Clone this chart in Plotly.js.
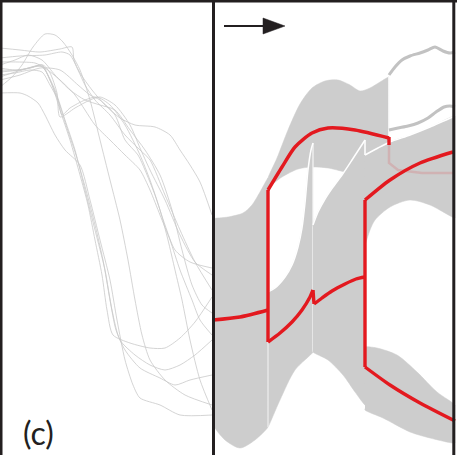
<!DOCTYPE html>
<html>
<head>
<meta charset="utf-8">
<script src="https://cdn.plot.ly/plotly-3.0.1.min.js"></script>
<style>html,body{margin:0;padding:0;background:#fff;}#chart{width:457px;height:455px;}</style>
</head>
<body>
<div id="chart"></div>
<script>
// ---------- Left panel: sample trajectories (x, y in panel units; y grows downward) ----------
const trajX = [
  [0,12,22,33,45,55,63,72,80,90,100,110,120,128,135,142,150,165,185,212],
  [0,20,40,60,72,74,80,92,105,120,135,155,170,180,190,200,212],
  [0,20,45,62,70,78,85,95,110,125,140,150,165,180,195,212],
  [0,20,43,50,57,60,75,90,100,115,130,140,150,165,180,195,212],
  [0,15,30,40,45,55,65,75,85,95,105,112,120,135,150,165,180,195,212],
  [0,20,38,43,52,60,70,80,88,95,102,107,113,130,150,165,180,195,212],
  [0,15,30,42,50,58,66,76,86,95,103,110,116,125,140,160,175,190,212],
  [0,20,28,38,45,55,65,80,90,100,110,117,125,133,140,160,180,212],
  [0,18,35,45,60,75,85,95,110,125,140,150,160,170,180,192,200,212],
  [0,15,28,42,55,70,85,100,115,130,145,160,172,182,192,202,212],
  [0,20,40,60,78,90,100,115,125,138,145,155,165,175,190,212],
  [0,15,30,42,50,58,62,70,85,97,110,125,140,150,160,168,175,182,190,200,212]
];
const trajY = [
  [87,77,65,47,34,35,42,55,70,100,140,180,220,260,300,335,360,380,395,405],
  [48,50,52,49,47,60,73,90,105,118,125,127,135,150,165,182,215],
  [58,56,55,52,55,70,85,100,115,135,150,160,195,230,262,290],
  [70,70,65,73,93,117,108,100,97,105,125,148,170,200,235,262,275],
  [68,70,68,66,70,90,120,150,190,230,270,310,340,355,365,370,365,355,340],
  [72,70,66,67,85,110,140,175,205,240,275,310,335,343,348,348,338,322,297],
  [77,72,68,65,80,100,125,155,190,225,260,300,330,350,368,378,385,380,375],
  [93,93,96,103,115,135,150,165,200,240,280,320,360,385,398,405,415,415],
  [62,62,63,68,80,95,110,125,140,155,170,190,215,240,270,300,320,335],
  [65,60,55,60,75,90,100,105,110,130,150,175,210,250,285,305,313],
  [80,75,68,70,85,95,100,115,140,155,170,195,225,250,262,268],
  [75,73,70,72,85,100,115,108,100,97,105,125,155,180,210,240,270,300,340,380,410]
];

// ---------- Right panel: distribution bands (top / bottom boundaries) ----------
const band0TopX = [213,228,243,252,260,268];
const band0TopY = [219,217,213,205,192,178];
const band0BotX = [213,225,240,255,268];
const band0BotY = [425,440,448,440,427];

const bandATopX = [268,277,288,300,312,325,338,350,360,370,380,389];
const bandATopY = [178,158,130,104,88,81,80,85,91,88,82,77];
const bandABotX = [268,282,298,312,328,345,365,389];
const bandABotY = [187,177,169,167,168,172,176,180];

const bandL1TopX = [268,275,285,292,298,302,305,308,311,313];
const bandL1TopY = [292,288,277,265,247,228,203,170,150,143];
const bandL1BotX = [268,280,295,313];
const bandL1BotY = [427,400,370,352];

const bandL2TopX = [313,318,325,333,342,352,365];
const bandL2TopY = [225,212,199,187,175,160,140];
const bandL2BotX = [313,328,343,355,365];
const bandL2BotY = [352,360,375,392,405];

const bandU3TopX = [365,378,390,410,430,455];
const bandU3TopY = [155,148,142,135,127,116];
const bandU3BotX = [365,370,375,390,410,430,455];
const bandU3BotY = [245,230,220,207,200,205,218];

const bandLLTopX = [365,377,397,417,437,455];
const bandLLTopY = [347,348,355,372,392,405];
const bandLLBotX = [365,383,410,430,455];
const bandLLBotY = [410,418,432,438,443];

// ---------- Right panel: band edges drawn in white ----------
const edgeL1RightX = [313,313];  const edgeL1RightY = [143,352];
const edgeL1LeftX = [268,268];   const edgeL1LeftY = [342,427];
const edgeARightX = [389,389];   const edgeARightY = [77,142];
const edgeJumpX = [365,365];     const edgeJumpY = [140,155];

// ---------- Right panel: mean paths ----------
const mean0X = [213,240,268];            const mean0Y = [320,317,310];
const jump1X = [268,268];                const jump1Y = [190,342];
const meanUX = [268,282,295,312,328,355,389];
const meanUY = [190,167,147,133,128,130,138];
const meanUEndX = [389,389];             const meanUEndY = [137,145];
const meanL1X = [268,280,292,302,310,313];
const meanL1Y = [342,333,322,310,297,290];
const meanL1bX = [313,314,322,332,345,356,365];
const meanL1bY = [290,304,298,291,284,279,277];
const jump2X = [365,365];                const jump2Y = [200,367];
const meanU3X = [365,390,420,453];       const meanU3Y = [200,180,163,152];
const meanLLX = [365,390,420,455];       const meanLLY = [367,385,403,421];
const ghostX = [389,389,398,422,455];    const ghostY = [143,163,170,173,173];

// ---------- Right panel: upper sample paths ----------
const upper1X = [389,395,402,410,420,428,435,443,450,455];
const upper1Y = [75,67,60,56,53,50,47,51,53,52];
const upper2X = [389,398,408,418,428,436,444,450,455];
const upper2Y = [130,128,126,123,118,112,107,106,107];

// ---------- Arrow ----------
const arrowShaftX = [224,266];  const arrowShaftY = [26,26];
const arrowHeadX = [263,285,263,263]; const arrowHeadY = [18,26,34,18];

const GREY = '#cdcdcd';
const RED = '#e3191f';
const INK = '#231f20';

function band(tx, ty, bx, by) {
  const n = tx.length, m = bx.length;
  const xs = [], ys = [];
  xs.push(tx[0]); ys.push(ty[0] + 1.5);
  for (let i = 0; i < n; i++) { xs.push(tx[i]); ys.push(ty[i]); }
  xs.push(tx[n-1]); ys.push(ty[n-1] + 1.5);
  xs.push(bx[m-1]); ys.push(by[m-1] - 1.5);
  for (let i = m - 1; i >= 0; i--) { xs.push(bx[i]); ys.push(by[i]); }
  xs.push(bx[0]); ys.push(by[0] - 1.5);
  return {
    x: xs, y: ys,
    type: 'scatter', mode: 'lines', fill: 'toself',
    fillcolor: GREY, line: {color: GREY, width: 0.5, shape: 'spline', smoothing: 0.8},
    hoverinfo: 'skip'
  };
}
function line(x, y, color, width) {
  return {x: x, y: y, type: 'scatter', mode: 'lines',
          line: {color: color, width: width, shape: 'spline', smoothing: 0.7}, hoverinfo: 'skip'};
}
function straight(x, y, color, width) {
  return {x: x, y: y, type: 'scatter', mode: 'lines',
          line: {color: color, width: width}, hoverinfo: 'skip'};
}

const RW = 3.4;
const traces = [];
for (let i = 0; i < trajX.length; i++) traces.push(line(trajX[i], trajY[i], '#c9c9c9', 0.8));
traces.push(band(band0TopX, band0TopY, band0BotX, band0BotY));
traces.push(band(bandATopX, bandATopY, bandABotX, bandABotY));
traces.push(straight(edgeARightX, edgeARightY, '#ffffff', 1.5));
traces.push(band(bandL1TopX, bandL1TopY, bandL1BotX, bandL1BotY));
traces.push(line(bandL1TopX, bandL1TopY, '#ffffff', 1.5));
traces.push(straight(edgeL1RightX, edgeL1RightY, '#ffffff', 1));
traces.push(straight(edgeL1LeftX, edgeL1LeftY, '#ffffff', 0.8));
traces.push(band(bandL2TopX, bandL2TopY, bandL2BotX, bandL2BotY));
traces.push(line(bandL2TopX, bandL2TopY, '#ffffff', 1.5));
traces.push(band(bandU3TopX, bandU3TopY, bandU3BotX, bandU3BotY));
traces.push(line(bandU3TopX, bandU3TopY, '#ffffff', 1.5));
traces.push(straight(edgeJumpX, edgeJumpY, '#ffffff', 1.5));
traces.push(band(bandLLTopX, bandLLTopY, bandLLBotX, bandLLBotY));
traces.push(line(upper1X, upper1Y, '#c2c2c2', 3));
traces.push(line(upper2X, upper2Y, '#c2c2c2', 3));
traces.push(straight(ghostX, ghostY, 'rgba(227,25,31,0.15)', 2.5));
traces.push(line(mean0X, mean0Y, RED, RW));
traces.push(straight(jump1X, jump1Y, RED, RW));
traces.push(line(meanUX, meanUY, RED, RW));
traces.push(straight(meanUEndX, meanUEndY, RED, RW));
traces.push(line(meanL1X, meanL1Y, RED, RW));
traces.push(line(meanL1bX.slice(1), meanL1bY.slice(1), RED, RW));
traces.push(straight(meanL1bX.slice(0, 2), meanL1bY.slice(0, 2), RED, RW));
traces.push(straight(jump2X, jump2Y, RED, RW));
traces.push(line(meanU3X, meanU3Y, RED, RW));
traces.push(line(meanLLX, meanLLY, RED, RW));
traces.push(straight(arrowShaftX, arrowShaftY, INK, 2));
traces.push({x: arrowHeadX, y: arrowHeadY, type: 'scatter', mode: 'lines', fill: 'toself',
             fillcolor: INK, line: {color: INK, width: 0.5}, hoverinfo: 'skip'});

const layout = {
  width: 457, height: 455,
  margin: {l: 0, r: 0, t: 0, b: 0},
  paper_bgcolor: '#ffffff', plot_bgcolor: '#ffffff',
  showlegend: false,
  xaxis: {range: [0, 457], visible: false, fixedrange: true},
  yaxis: {range: [455, 0], visible: false, fixedrange: true},
  shapes: [
    {type: 'line', xref: 'x', yref: 'y', x0: 0, x1: 457, y0: 1.2, y1: 1.2, line: {color: INK, width: 2.6}, layer: 'above'},
    {type: 'line', xref: 'x', yref: 'y', x0: 1.2, x1: 1.2, y0: 0, y1: 455, line: {color: INK, width: 2.6}, layer: 'above'},
    {type: 'line', xref: 'x', yref: 'y', x0: 213.5, x1: 213.5, y0: 0, y1: 455, line: {color: INK, width: 3}, layer: 'above'},
    {type: 'line', xref: 'x', yref: 'y', x0: 453.8, x1: 453.8, y0: 0, y1: 455, line: {color: INK, width: 3}, layer: 'above'}
  ],
  annotations: [
    {x: 38, y: 432, xref: 'x', yref: 'y', text: '(c)', showarrow: false,
     font: {family: 'Lato, "Open Sans", sans-serif', size: 32, color: INK},
     xanchor: 'center', yanchor: 'middle', borderpad: 0}
  ]
};

Plotly.newPlot('chart', traces, layout, {staticPlot: true, displayModeBar: false});
</script>
</body>
</html>
